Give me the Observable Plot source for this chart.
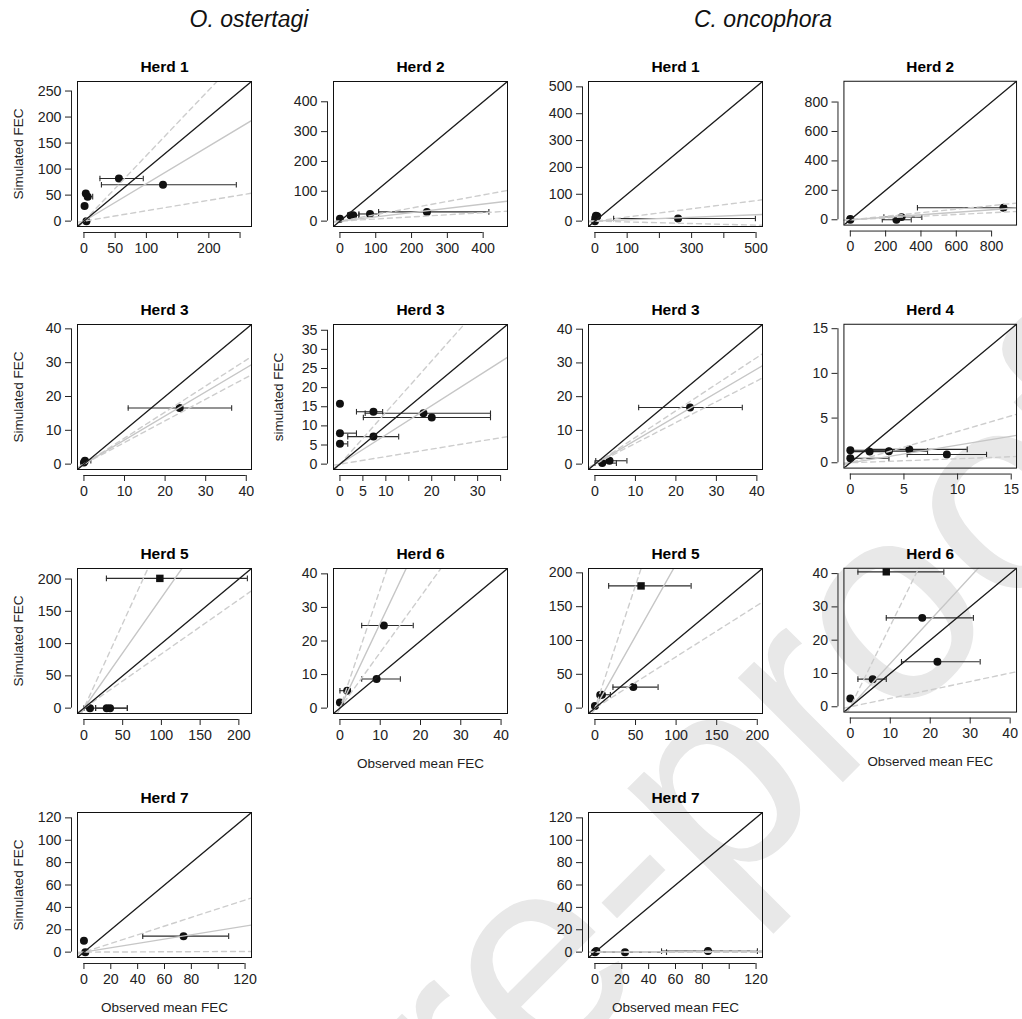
<!DOCTYPE html>
<html><head><meta charset="utf-8">
<script src="https://cdn.jsdelivr.net/npm/d3@7"></script>
<script src="https://cdn.jsdelivr.net/npm/@observablehq/plot@0.6"></script>
<style>
html,body{margin:0;padding:0;background:#fff;}
#page{position:relative;width:1022px;height:1019px;overflow:hidden;background:#fff;font-family:"Liberation Sans",Arial,sans-serif;}
.panel{position:absolute;}
#back{position:absolute;left:0;top:0;}
.panel svg [aria-label$="tick label"]{font-size:14.2px;}
.panel svg [aria-label$="tick label"] text{font-size:14.2px;}
</style></head><body><div id="page"></div>
<script>
// ---------------- data ----------------
const speciesNames = ["O. ostertagi", "C. oncophora"];
const xAxisTitle = "Observed mean FEC";

// points: [observed mean, simulated, error-bar low, error-bar high, marker]
const O1_points = [[56,82,25.6,95],[126.6,70,28,244],[3,53,null,null],[6,47,2,14],[1,29,null,null],[4,0,null,null]];
const O1_slopes = [0.20, 0.72, 1.26];
const O1_lim = 258, O1_step = 50, O1_xlabels = [0,50,100,200];

const O2_points = [[0,8,null,null],[30,19,null,null],[37,20,22,53],[84,24,53,108],[243,31,108,416]];
const O2_slopes = [0.071, 0.143, 0.22];
const O2_lim = 450, O2_step = 100, O2_xlabels = [0,100,200,300,400];

const C1_points = [[3,20,null,null],[7,18,null,null],[5,14,null,null],[1,12,null,null],[0,0,null,null],[258,10,58,498]];
const C1_slopes = [-0.03, 0.048, 0.153];
const C1_lim = 500, C1_step = 100, C1_xlabels = [0,100,300,500];

const C2_points = [[0,0,null,null],[0,5,null,null],[261,0,181,345],[290,18,190,405],[867,82,380,1000]];
const C2_slopes = [0.06, 0.085, 0.12];
const C2_lim = 905, C2_step = 200, C2_xlabels = [0,200,400,600,800];

const O3_points = [[0.25,1.0,0,1.7],[0,0.5,null,null],[23.6,16.6,10.9,36.4]];
const O3_slopes = [0.64, 0.712, 0.77];
const O3_lim = 39.7, O3_step = 10, O3_xlabels = [0,10,20,30,40];

const O3b_points = [[0,15.8,null,null],[0,8.1,0,3.6],[0,5.3,0,1.7],[7.3,13.7,3.6,9.3],[7.3,7.2,1.7,12.8],[18.2,13.3,5.5,32.8],[20,12.2,5.1,32.8]];
const O3b_slopes = [0.197, 0.765, 1.35];
const O3b_lim = 35.1, O3b_step = 5, O3b_xlabels = [0,5,10,20,30];

const C3_points = [[1.8,0.3,0,5.3],[3.6,1.0,0.2,7.9],[23.5,16.8,10.8,36.4]];
const C3_slopes = [0.617, 0.705, 0.79];
const C3_lim = 39.8, C3_step = 10, C3_xlabels = [0,10,20,30,40];

const C4_points = [[0,1.4,0,3.6],[0,0.5,0,3.6],[1.8,1.25,0,3.6],[3.6,1.3,1.8,7.2],[5.5,1.5,1.8,10.9],[9.0,0.93,5.3,12.7]];
const C4_slopes = [0.045, 0.198, 0.35];
const C4_lim = 14.9, C4_step = 5, C4_xlabels = [0,5,10,15];

const O5_points = [[98,201,29,211,"square"],[7.8,0,0,15],[29.4,0,15,56],[33.7,0,15,56]];
const O5_slopes = [0.84, 1.71, 2.62];
const O5_lim = 208, O5_step = 50, O5_xlabels = [0,50,100,150,200];

const O6_points = [[0,1.7,null,null],[1.8,5.2,0,2.5],[10.9,24.6,5.4,18.2],[9.1,8.7,5.4,15.0]];
const O6_slopes = [1.66, 2.53, 3.55];
const O6_lim = 40, O6_step = 10, O6_xlabels = [0,10,20,30,40];

const C5_points = [[56.8,180.7,16.9,118.5,"square"],[47.3,31.1,22.2,77.8],[8.6,19.8,3.3,19],[6.5,19.5,null,null],[0,3,null,null]];
const C5_slopes = [0.76, 2.13, 3.63];
const C5_lim = 198.5, C5_step = 50, C5_xlabels = [0,50,100,150,200];

const C6_points = [[9.0,40.5,1.9,23.4,"square"],[18.0,26.7,9.0,30.8],[21.8,13.5,12.8,32.5],[5.6,8.3,1.9,9.0],[0,2.5,null,null]];
const C6_slopes = [0.253, 1.30, 2.43];
const C6_lim = 40, C6_step = 10, C6_xlabels = [0,10,20,30,40];

const O7_points = [[0,10.1,null,null],[1,0,null,null],[74.2,14.3,43.8,107.8]];
const O7_slopes = [0.005, 0.194, 0.388];
const O7_lim = 120, O7_step = 20, O7_xlabels = [0,20,40,60,80,120];

const C7_points = [[0,0,null,null],[1,1,null,null],[22.4,0,0,53.3],[84.2,0.9,49.6,121]];
const C7_slopes = [-0.002, 0.004, 0.01];
const C7_lim = 120, C7_step = 20, C7_xlabels = [0,20,40,60,80,120];

// ---------------- layout ----------------
const colLeft = [77, 333, 588, 844];
const rowTop = [81, 324, 568, 812];
const boxW = 174, boxH = 145;
const mL = 72, mR = 6, mT = 30, mB = 62;

const panels = [
  {title:"Herd 1", col:0, row:0, pts:O1_points, slopes:O1_slopes, lim:O1_lim, step:O1_step, xlabels:O1_xlabels, ylab:"Simulated FEC"},
  {title:"Herd 2", col:1, row:0, pts:O2_points, slopes:O2_slopes, lim:O2_lim, step:O2_step, xlabels:O2_xlabels},
  {title:"Herd 1", col:2, row:0, pts:C1_points, slopes:C1_slopes, lim:C1_lim, step:C1_step, xlabels:C1_xlabels},
  {title:"Herd 2", col:3, row:0, pts:C2_points, slopes:C2_slopes, lim:C2_lim, step:C2_step, xlabels:C2_xlabels},
  {title:"Herd 3", col:0, row:1, pts:O3_points, slopes:O3_slopes, lim:O3_lim, step:O3_step, xlabels:O3_xlabels, ylab:"Simulated FEC"},
  {title:"Herd 3", col:1, row:1, pts:O3b_points, slopes:O3b_slopes, lim:O3b_lim, step:O3b_step, xlabels:O3b_xlabels, ylab:"simulated FEC", ylabDx:-55},
  {title:"Herd 3", col:2, row:1, pts:C3_points, slopes:C3_slopes, lim:C3_lim, step:C3_step, xlabels:C3_xlabels},
  {title:"Herd 4", col:3, row:1, pts:C4_points, slopes:C4_slopes, lim:C4_lim, step:C4_step, xlabels:C4_xlabels},
  {title:"Herd 5", col:0, row:2, pts:O5_points, slopes:O5_slopes, lim:O5_lim, step:O5_step, xlabels:O5_xlabels, ylab:"Simulated FEC"},
  {title:"Herd 6", col:1, row:2, pts:O6_points, slopes:O6_slopes, lim:O6_lim, step:O6_step, xlabels:O6_xlabels, xlab:true},
  {title:"Herd 5", col:2, row:2, pts:C5_points, slopes:C5_slopes, lim:C5_lim, step:C5_step, xlabels:C5_xlabels},
  {title:"Herd 6", col:3, row:2, pts:C6_points, slopes:C6_slopes, lim:C6_lim, step:C6_step, xlabels:C6_xlabels, xlab:true},
  {title:"Herd 7", col:0, row:3, pts:O7_points, slopes:O7_slopes, lim:O7_lim, step:O7_step, xlabels:O7_xlabels, ylab:"Simulated FEC", xlab:true},
  {title:"Herd 7", col:2, row:3, pts:C7_points, slopes:C7_slopes, lim:C7_lim, step:C7_step, xlabels:C7_xlabels, xlab:true}
];

// ---------------- drawing ----------------
const page = document.getElementById("page");
const FONT = "'Liberation Sans', Arial, Helvetica, sans-serif";

// background layer: watermark + species headers
const back = d3.select(page).append("svg").attr("id","back").attr("width",1022).attr("height",1019);
const wm = back.append("g").attr("transform","translate(345,1280) rotate(-45)")
  .attr("font-family",FONT).attr("font-size",280).attr("fill","#e8e8e8");
wm.append("text").attr("x",0).attr("y",0).text("Pre-proof");
back.selectAll("text.sp").data(speciesNames).join("text").attr("class","sp")
  .attr("x",(d,i)=>[249,763][i]).attr("y",27).attr("text-anchor","middle")
  .attr("font-family",FONT).attr("font-style","italic").attr("font-size",23).attr("fill","#111")
  .text(d=>d);

const capSymbol = {draw(ctx, size){ const r = Math.sqrt(size/Math.PI); ctx.moveTo(0,-r); ctx.lineTo(0,r); }};

for (const p of panels) {
  const lo = -0.04*p.lim, hi = 1.04*p.lim;
  const ticks = d3.range(0, hi + 1e-9, p.step);
  const rows = p.pts.map(([obs, sim, l, h, shape]) => ({obs, sim, l, h, shape}));
  const bars = rows.filter(d => d.l != null);
  const caps = bars.flatMap(d => [{x:d.l, y:d.sim}, {x:d.h, y:d.sim}]);
  const ray = s => [[lo, s*lo], [hi, s*hi]];
  const marks = [
    Plot.ruleY(bars, {y:"sim", x1:"l", x2:"h", stroke:"#2b2b2b", strokeWidth:1.1, clip:true}),
    Plot.dot(caps, {x:"x", y:"y", symbol:capSymbol, r:2.8, stroke:"#2b2b2b", strokeWidth:1.1, fill:"none", clip:true}),
    Plot.dot(rows.filter(d=>d.shape!=="square"), {x:"obs", y:"sim", r:4, fill:"#111", stroke:"none", clip:true}),
    Plot.dot(rows.filter(d=>d.shape==="square"), {x:"obs", y:"sim", r:4.2, symbol:"square", fill:"#111", stroke:"none", clip:true}),
    Plot.line(ray(p.slopes[0]), {stroke:"#cdcdcd", strokeWidth:1.4, strokeDasharray:"5,4", clip:true}),
    Plot.line(ray(p.slopes[2]), {stroke:"#cdcdcd", strokeWidth:1.4, strokeDasharray:"5,4", clip:true}),
    Plot.line(ray(p.slopes[1]), {stroke:"#c6c6c6", strokeWidth:1.4, clip:true}),
    Plot.line([[lo,lo],[hi,hi]], {stroke:"#1c1c1c", strokeWidth:1.3, clip:true}),
    Plot.frame({stroke:"#111", strokeWidth:1}),
    Plot.axisX(ticks, {anchor:"bottom", tickSize:6, tickPadding:4, dy:6, label:null, fontSize:14.2, fill:"#222", stroke:"#222",
      tickFormat: d => p.xlabels.includes(d) ? String(d) : ""}),
    Plot.ruleY([lo], {x1:ticks[0], x2:ticks[ticks.length-1], dy:6, stroke:"#222"}),
    Plot.axisY(ticks, {anchor:"left", tickSize:6, tickPadding:4, dx:-6, label:null, fontSize:14.2, fill:"#222", stroke:"#222",
      tickFormat: d => String(d)}),
    Plot.ruleX([lo], {y1:ticks[0], y2:ticks[ticks.length-1], dx:-6, stroke:"#222"}),
    Plot.text([p.title], {frameAnchor:"top", lineAnchor:"middle", dy:-14, fontWeight:"bold", fontSize:15.5, fill:"#000"})
  ];
  if (p.ylab) marks.push(Plot.text([p.ylab], {frameAnchor:"left", textAnchor:"middle", lineAnchor:"middle", dx:(p.ylabDx ?? -59), rotate:-90, fontSize:13.5, fill:"#222"}));
  if (p.xlab) marks.push(Plot.text([xAxisTitle], {frameAnchor:"bottom", textAnchor:"middle", lineAnchor:"middle", dy:50, fontSize:13.5, fill:"#222"}));

  const svg = Plot.plot({
    width: mL + boxW + mR, height: mT + boxH + mB,
    marginLeft: mL, marginRight: mR, marginTop: mT, marginBottom: mB,
    x: {domain:[lo, hi], label:null},
    y: {domain:[lo, hi], label:null},
    style: {fontFamily: FONT, fontSize:"13.5px", background:"transparent", overflow:"visible", color:"#222"},
    marks
  });
  const div = document.createElement("div");
  div.className = "panel";
  div.style.left = (colLeft[p.col] - mL) + "px";
  div.style.top = (rowTop[p.row] - mT) + "px";
  div.appendChild(svg);
  page.appendChild(div);
}
</script></body></html>
